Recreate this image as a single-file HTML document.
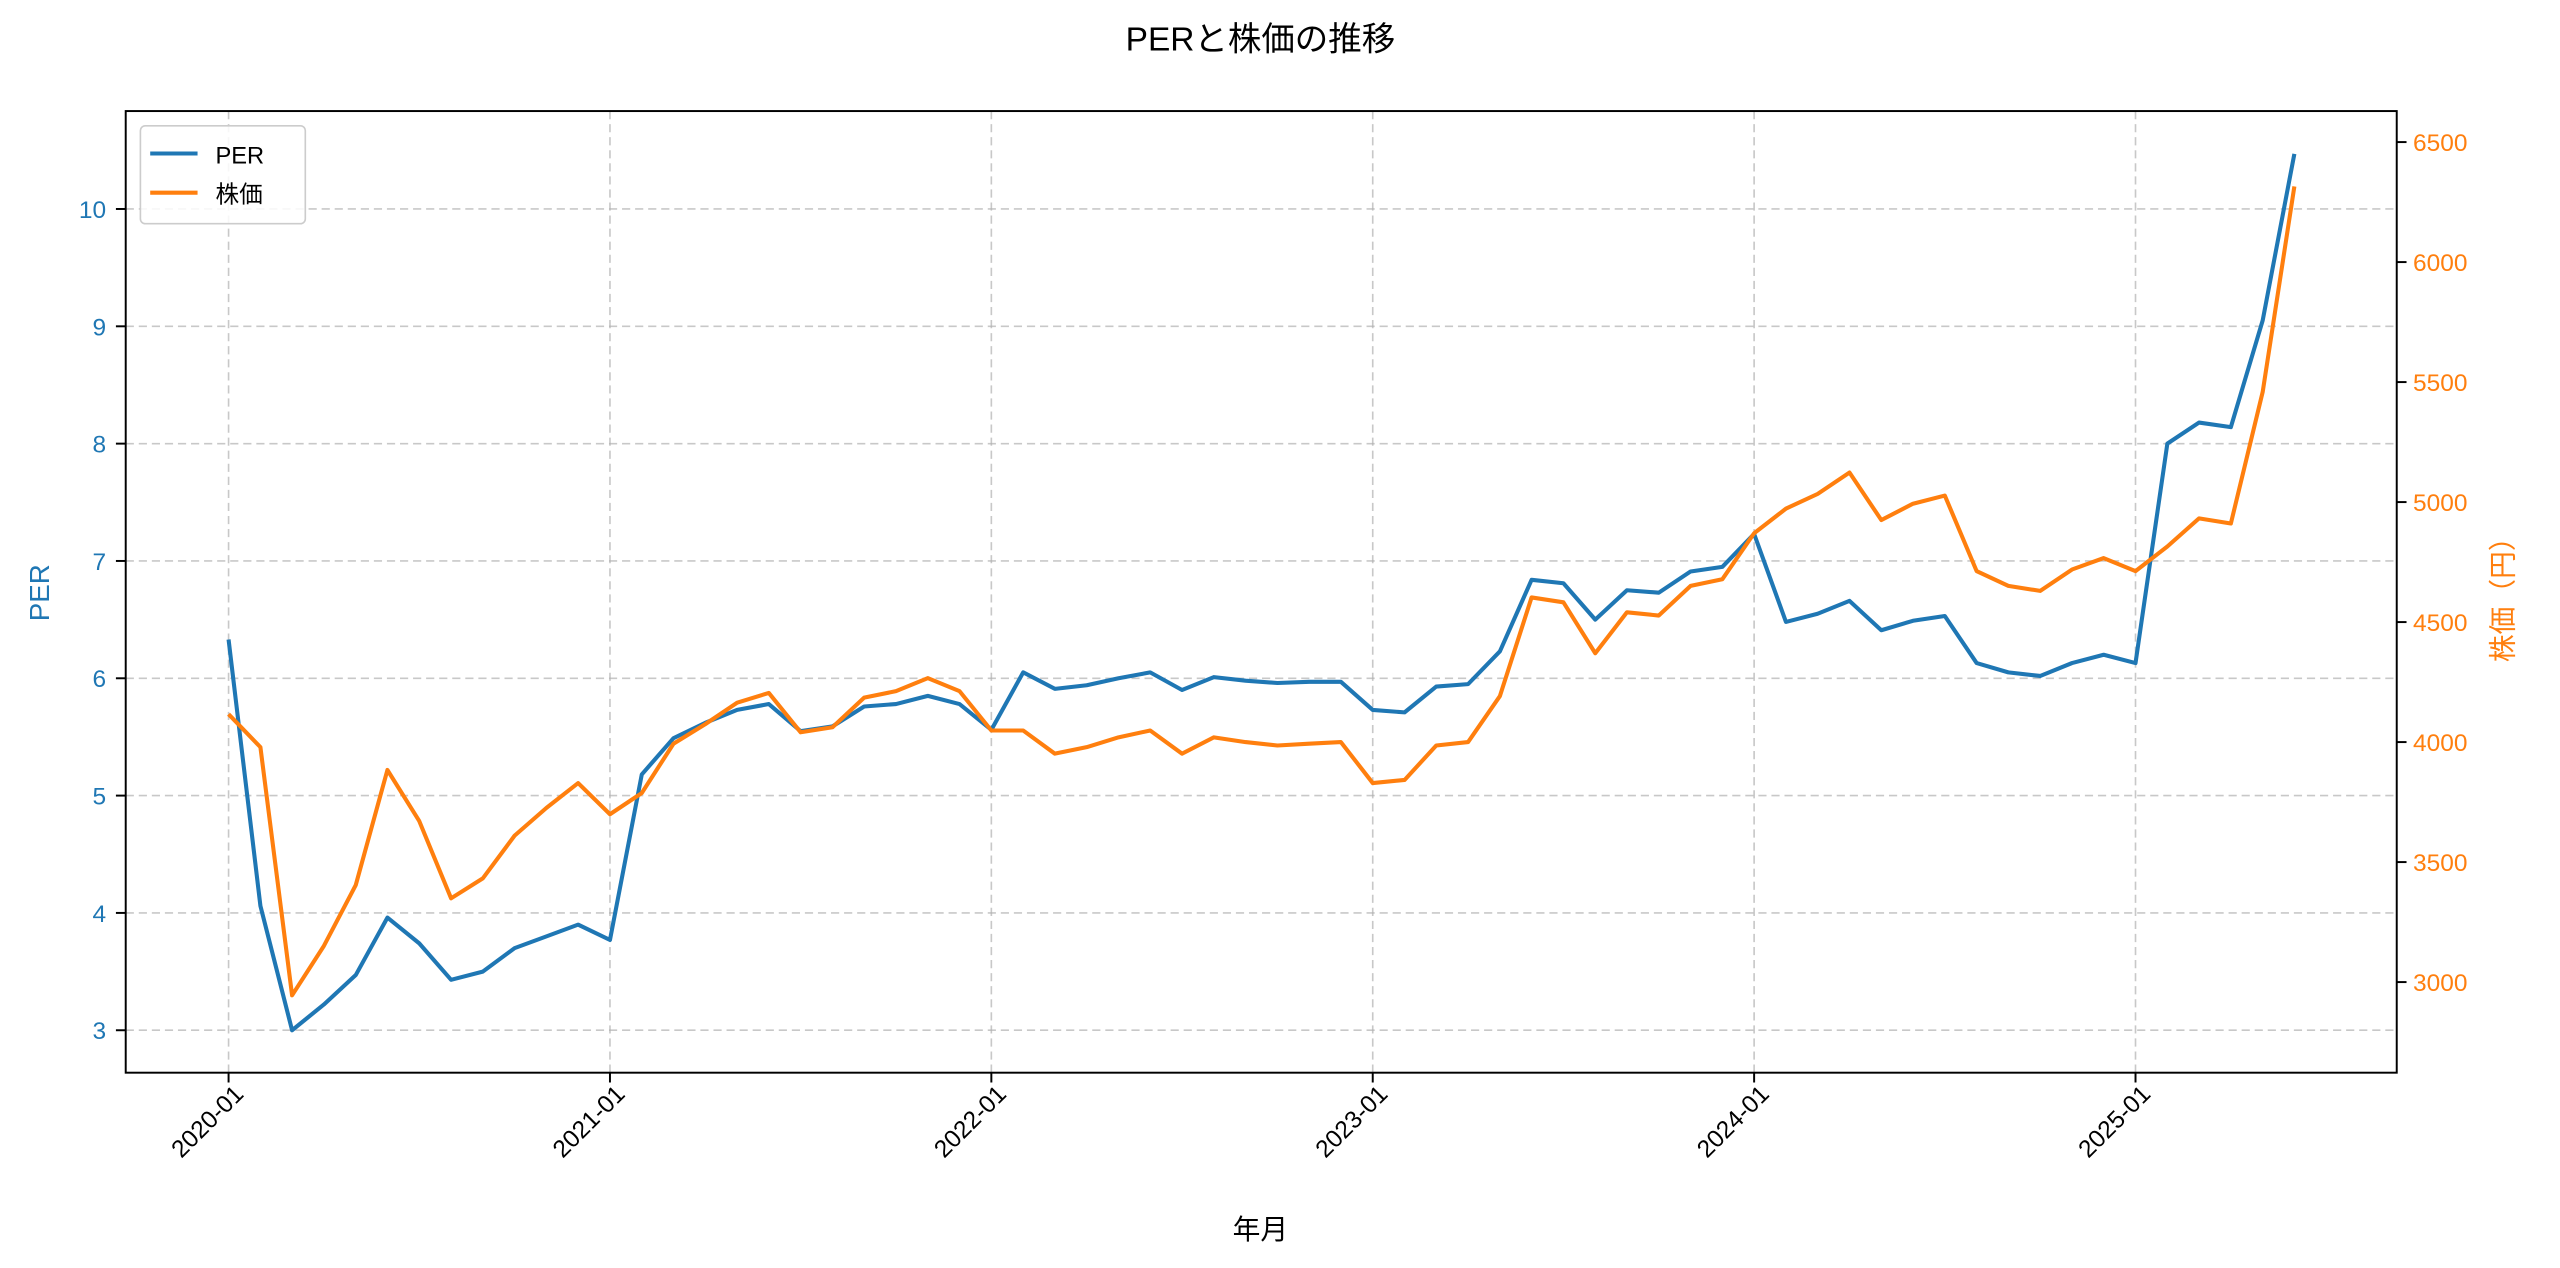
<!DOCTYPE html>
<html><head><meta charset="utf-8"><style>
html,body{margin:0;padding:0;background:#fff;}
svg{display:block;font-family:"Liberation Sans","Noto Sans CJK JP",sans-serif;}
</style></head><body>
<svg id="chart" width="2560" height="1268" viewBox="0 0 1568 776.6" xmlns="http://www.w3.org/2000/svg">
<rect width="1568" height="776.6" fill="#fff"/>
<text x="772" y="31" text-anchor="middle" font-size="20.5" fill="#000">PERと株価の推移</text>
<g id="grid"></g>
<g id="lines"></g>
<rect x="77" y="68" width="1391" height="589" fill="none" stroke="#000" stroke-width="1.2"/>
<g id="axes"></g>
<text x="772" y="759" text-anchor="middle" font-size="17">年月</text>
<text transform="translate(30,363) rotate(-90)" text-anchor="middle" font-size="17" fill="#1f77b4">PER</text>
<text transform="translate(1539,363) rotate(-90)" text-anchor="middle" font-size="17" fill="#ff7f0e">株価（円）</text>
<g>
<rect x="86" y="77" width="101" height="60" rx="3" fill="#fff" fill-opacity="0.85" stroke="#ccc" stroke-width="1"/>
<line x1="92" y1="94" x2="121" y2="94" stroke="#1f77b4" stroke-width="2.5"/>
<text x="132" y="100" font-size="14.5">PER</text>
<line x1="92" y1="118" x2="121" y2="118" stroke="#ff7f0e" stroke-width="2.5"/>
<text x="132" y="124" font-size="14.5">株価</text>
</g>
</svg>
<script>
const months = [];
for (let y = 2020; y <= 2025; y++) for (let m = 1; m <= 12; m++) { if (y === 2025 && m > 6) break; months.push(y + '-' + String(m).padStart(2, '0')); }
const perValues = [6.33,4.06,3.0,3.22,3.47,3.96,3.74,3.43,3.5,3.7,3.8,3.9,3.77,5.18,5.49,5.62,5.73,5.78,5.55,5.59,5.76,5.78,5.85,5.78,5.56,6.05,5.91,5.94,6.0,6.05,5.9,6.01,5.98,5.96,5.97,5.97,5.73,5.71,5.93,5.95,6.23,6.84,6.81,6.5,6.75,6.73,6.91,6.95,7.23,6.48,6.55,6.66,6.41,6.49,6.53,6.13,6.05,6.02,6.13,6.2,6.13,8.0,8.18,8.14,9.05,10.47];
const priceValues = [4116,3979,2945,3151,3404,3884,3671,3349,3432,3610,3726,3829,3699,3788,3993,4075,4164,4205,4041,4062,4185,4212,4267,4212,4048,4048,3952,3979,4020,4048,3952,4020,4000,3986,3993,4000,3829,3842,3986,4000,4192,4603,4582,4370,4541,4527,4651,4678,4870,4973,5034,5123,4925,4993,5027,4712,4651,4630,4719,4767,4712,4815,4932,4911,5459,6315];
const xTickLabels = ['2020-01','2021-01','2022-01','2023-01','2024-01','2025-01'];
const perTicks = [3,4,5,6,7,8,9,10];
const priceTicks = [3000,3500,4000,4500,5000,5500,6000,6500];

const NS = 'http://www.w3.org/2000/svg';
const xScale = i => 140 + i * (1168 / 60);
const yPer = v => 631 - (v - 3) * 71.86;
const yPrice = v => 601.5 - (v - 3000) * 0.147;
function mk(tag, attrs, parent) { const e = document.createElementNS(NS, tag); for (const k in attrs) e.setAttribute(k, attrs[k]); parent.appendChild(e); return e; }
const grid = document.getElementById('grid'), axes = document.getElementById('axes'), lines = document.getElementById('lines');

xTickLabels.forEach(lbl => {
  const i = months.indexOf(lbl), x = xScale(i);
  const g = mk('line', {x1:x, y1:68, x2:x, y2:657, stroke:'#b0b0b0', 'stroke-opacity':0.7, 'stroke-dasharray':'5,3', 'stroke-width':1}, grid);
  
  
  mk('line', {x1:x, y1:657, x2:x, y2:663, stroke:'#000', 'stroke-width':1.2}, axes);
  const t = mk('text', {transform:`translate(${x+10},${671}) rotate(-45)`, 'text-anchor':'end', 'font-size':15}, axes);
  t.textContent = lbl;
  
  
});
perTicks.forEach(v => {
  const y = yPer(v);
  const g = mk('line', {x1:77, y1:y, x2:1468, y2:y, stroke:'#b0b0b0', 'stroke-opacity':0.7, 'stroke-dasharray':'5,3', 'stroke-width':1}, grid);
  
  
  mk('line', {x1:71, y1:y, x2:77, y2:y, stroke:'#000', 'stroke-width':1.2}, axes);
  const t = mk('text', {x:65, y:y+5.5, 'text-anchor':'end', 'font-size':15, fill:'#1f77b4'}, axes);
  t.textContent = v;
  
  
});
priceTicks.forEach(v => {
  const y = yPrice(v);
  mk('line', {x1:1468, y1:y, x2:1474, y2:y, stroke:'#000', 'stroke-width':1.2}, axes);
  const t = mk('text', {x:1478, y:y+5.5, 'font-size':15, fill:'#ff7f0e'}, axes);
  t.textContent = v;
  
  
});
const perPath = mk('polyline', {points: perValues.map((v,i)=>xScale(i).toFixed(1)+','+yPer(v).toFixed(1)).join(' '), fill:'none', stroke:'#1f77b4', 'stroke-width':2.5, 'stroke-linejoin':'round'}, lines);


const pricePath = mk('polyline', {points: priceValues.map((v,i)=>xScale(i).toFixed(1)+','+yPrice(v).toFixed(1)).join(' '), fill:'none', stroke:'#ff7f0e', 'stroke-width':2.5, 'stroke-linejoin':'round'}, lines);


</script>
</body></html>
